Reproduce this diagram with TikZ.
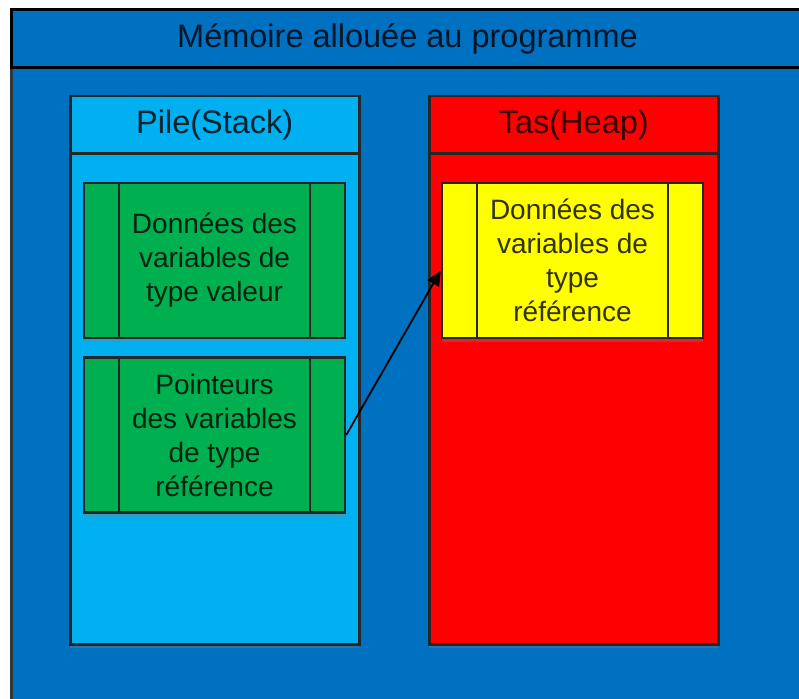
\documentclass[tikz,border=0pt]{standalone}
\usepackage{fontspec}
\setmainfont{Liberation Sans}
\usetikzlibrary{arrows.meta,positioning,shadows}
\definecolor{memblue}{HTML}{0070C0}
\definecolor{stackblue}{HTML}{00B0F0}
\definecolor{heapred}{HTML}{FF0000}
\definecolor{valgreen}{HTML}{00B050}
\definecolor{refyellow}{HTML}{FFFF00}
\definecolor{framegray}{HTML}{30363D}
\tikzset{
zone/.style={draw=black!85,line width=2.5pt,minimum width=289pt,minimum height=548pt,anchor=north west,
  drop shadow={shadow xshift=0pt,shadow yshift=-4pt,opacity=.35}},
zonehead/.style={draw=black!85,line width=2.5pt,minimum width=289pt,minimum height=57pt,anchor=north,
  text opacity=.8,font=\fontsize{32.5}{38}\selectfont},
procbox/.style={draw=black!85,line width=2.5pt,minimum width=261pt,minimum height=155pt,align=center,
  text opacity=.8,font=\fontsize{28}{34}\selectfont,drop shadow={shadow xshift=0pt,shadow yshift=-4pt,opacity=.35},
  path picture={\draw[line width=2.5pt,black!85]
    ([xshift=35pt]path picture bounding box.north west) -- ([xshift=35pt]path picture bounding box.south west)
    ([xshift=-35pt]path picture bounding box.north east) -- ([xshift=-35pt]path picture bounding box.south east);}},
arrow/.style={-{Triangle[length=15pt,width=13pt]},line width=1.8pt}
}
\begin{document}
\begin{tikzpicture}[x=1pt,y=-1pt]
\useasboundingbox (0,0) rectangle (799,698);
\clip (0,0) rectangle (799,698);
\fill[white] (0,0) rectangle (799,698);

% whole program memory
\node[draw=framegray,line width=3pt,fill=memblue,minimum width=792pt,minimum height=700pt,anchor=north west] (memoire) at (10,8) {};
\node[draw=black,line width=3pt,minimum width=792pt,minimum height=58pt,anchor=north,text opacity=.8,font=\fontsize{32.5}{38}\selectfont] (memoireHead) at (memoire.north) {Mémoire allouée au programme};

% stack and heap
\node[zone,fill=stackblue] (pile) at (69,95) {};
\node[zonehead] (pileHead) at (pile.north) {Pile(Stack)};
\node[zone,fill=heapred] (tas) at (428,95) {};
\node[zonehead] (tasHead) at (tas.north) {Tas(Heap)};

\node[procbox,fill=valgreen] (valeurs) at (214.5,260.5) {Données des\\variables de\\type valeur};
\node[procbox,fill=valgreen,below=17pt of valeurs] (pointeurs) {Pointeurs\\des variables\\de type\\référence};
\node[procbox,fill=refyellow] (donneesRef) at (572.5,260.5) {Données des\\variables de\\type\\référence};

\draw[arrow] (pointeurs.east) -- ([yshift=-10pt]donneesRef.west);
\end{tikzpicture}
\end{document}
